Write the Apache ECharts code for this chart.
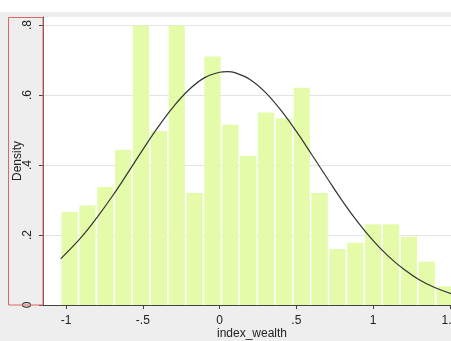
<!DOCTYPE html>
<html>
<head>
<meta charset="utf-8">
<script src="https://cdn.jsdelivr.net/npm/echarts@6/dist/echarts.min.js"></script>
<style>
html,body{margin:0;padding:0;background:#eeeeee;}
#chart{width:451px;height:341px;}
</style>
</head>
<body>
<div id="chart"></div>
<script>
// Histogram bin edges (index_wealth)
var binEdges = [-1.035, -0.919, -0.802, -0.686, -0.570, -0.454, -0.337, -0.221, -0.105, 0.012, 0.128, 0.244, 0.361, 0.477, 0.593, 0.710, 0.826, 0.942, 1.058, 1.175, 1.291, 1.407, 1.524];
// Density of each bin
var densities = [0.266, 0.284, 0.337, 0.444, 0.799, 0.497, 0.799, 0.320, 0.710, 0.515, 0.426, 0.550, 0.533, 0.621, 0.320, 0.160, 0.178, 0.231, 0.231, 0.195, 0.124, 0.053];
// Normal density curve
var curveX = [-1.035, -0.9, -0.8, -0.7, -0.6, -0.5, -0.4, -0.3, -0.2, -0.1, 0, 0.05, 0.1, 0.2, 0.3, 0.4, 0.5, 0.6, 0.7, 0.8, 0.9, 1.0, 1.1, 1.2, 1.3, 1.4, 1.52];
var curveY = [0.132, 0.194, 0.249, 0.310, 0.376, 0.444, 0.509, 0.567, 0.615, 0.649, 0.665, 0.667, 0.664, 0.644, 0.607, 0.556, 0.496, 0.430, 0.363, 0.297, 0.237, 0.184, 0.139, 0.102, 0.072, 0.050, 0.031];
// Tick labels
var xTicks = [-1, -0.5, 0, 0.5, 1, 1.5];
var xTickLabels = ['-1', '-.5', '0', '.5', '1', '1.5'];
var yTicks = [0, 0.2, 0.4, 0.6, 0.8];
var yTickLabels = ['0', '.2', '.4', '.6', '.8'];

var barData = densities.map(function (d, i) { return [binEdges[i], binEdges[i + 1], d]; });
var lineData = curveX.map(function (x, i) { return [x, curveY[i]]; });

var font = 'Liberation Sans, Arial, sans-serif';
var chart = echarts.init(document.getElementById('chart'));
chart.setOption({
  backgroundColor: '#eeeeee',
  animation: false,
  grid: { left: 43, right: 0, top: 17, bottom: 36, show: true, backgroundColor: '#ffffff', borderWidth: 0, containLabel: false, outerBoundsMode: 'none' },
  xAxis: {
    type: 'value', min: -1.15, max: 1.507,
    name: 'index_wealth', nameLocation: 'middle', nameGap: 23, nameMoveOverlap: false,
    nameTextStyle: { fontFamily: font, fontSize: 12, color: '#222', padding: [0, 0, 0, 10] },
    axisLine: { show: true, onZero: false, lineStyle: { color: '#444', width: 1 } },
    axisTick: { show: true, customValues: xTicks, length: 4, lineStyle: { color: '#444' } },
    axisLabel: {
      customValues: xTicks, margin: 10, fontFamily: font, fontSize: 12, color: '#222',
      formatter: function (v) { var i = xTicks.indexOf(v); return i >= 0 ? xTickLabels[i] : ''; }
    },
    splitLine: { show: false }
  },
  yAxis: {
    type: 'value', min: 0, max: 0.823,
    name: 'Density', nameLocation: 'middle', nameGap: 19, nameMoveOverlap: false,
    nameTextStyle: { fontFamily: font, fontSize: 12, color: '#222' },
    axisLine: { show: true, onZero: false, lineStyle: { color: '#444', width: 1 } },
    axisTick: { show: true, customValues: yTicks, length: 4, lineStyle: { color: '#444' } },
    axisLabel: {
      customValues: yTicks, rotate: 90, margin: 9, fontFamily: font, fontSize: 12, color: '#222',
      formatter: function (v) { var i = yTicks.indexOf(v); return i >= 0 ? yTickLabels[i] : ''; }
    },
    splitLine: { show: true, lineStyle: { color: '#e4e4e4', width: 1 } }
  },
  series: [
    {
      type: 'custom',
      data: barData,
      encode: { x: [0, 1], y: 2 },
      renderItem: function (params, api) {
        var p0 = api.coord([api.value(0), api.value(2)]);
        var p1 = api.coord([api.value(1), 0]);
        return {
          type: 'rect',
          shape: { x: p0[0] + 0.8, y: p0[1], width: p1[0] - p0[0] - 1.6, height: p1[1] - p0[1] },
          style: { fill: '#e4fcaa' }
        };
      },
      z: 2
    },
    {
      type: 'line',
      data: lineData,
      smooth: 0.4,
      showSymbol: false,
      lineStyle: { color: '#333333', width: 1.2 },
      z: 3
    }
  ],
  graphic: [
    { type: 'rect', left: 0, top: 0, shape: { width: 451, height: 12 }, style: { fill: '#ffffff' }, z: 100 },
    { type: 'rect', shape: { x: 8.5, y: 17.5, width: 34.5, height: 287.5 }, style: { fill: 'none', stroke: '#e06666', lineWidth: 1 }, z: 100 }
  ]
});
</script>
</body>
</html>
